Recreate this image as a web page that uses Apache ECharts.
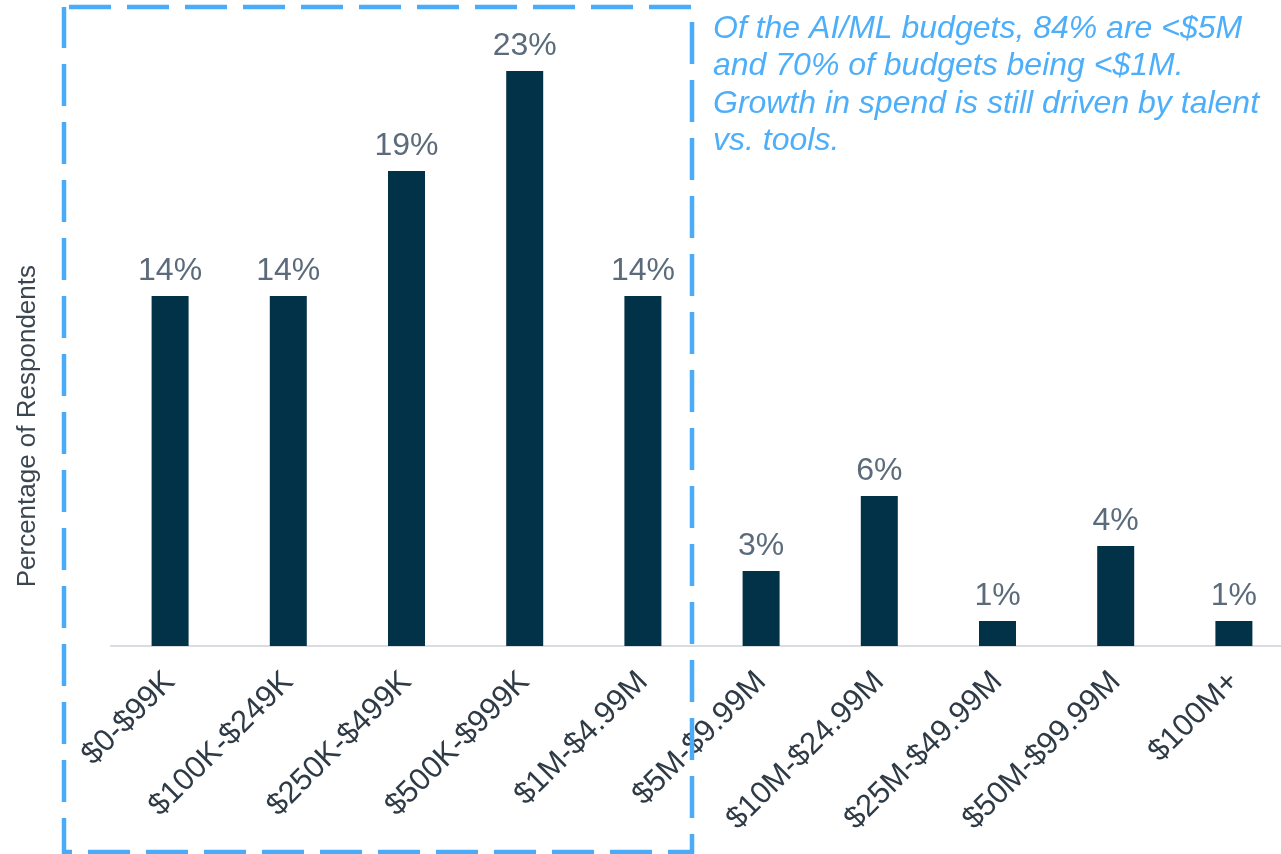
<!DOCTYPE html>
<html>
<head>
<meta charset="utf-8">
<script src="https://cdn.jsdelivr.net/npm/echarts@6/dist/echarts.min.js"></script>
<style>
  html, body { margin: 0; padding: 0; background: #ffffff; }
  #chart { width: 1281px; height: 854px; }
</style>
</head>
<body>
<div id="chart"></div>
<script>
// AI/ML budget ranges and share of respondents in each
const categories = ['$0-$99K', '$100K-$249K', '$250K-$499K', '$500K-$999K', '$1M-$4.99M',
  '$5M-$9.99M', '$10M-$24.99M', '$25M-$49.99M', '$50M-$99.99M', '$100M+'];
const respondentShare = [14, 14, 19, 23, 14, 3, 6, 1, 4, 1];
const axisTitle = 'Percentage of Respondents';
const noteLines = [
  'Of the AI/ML budgets, 84% are <$5M',
  'and 70% of budgets being <$1M.',
  'Growth in spend is still driven by talent',
  'vs. tools.'
];

const FONT = '"Liberation Sans", Arial, sans-serif';
const chart = echarts.init(document.getElementById('chart'), null, { renderer: 'canvas' });

chart.setOption({
  animation: false,
  backgroundColor: '#ffffff',
  grid: {
    left: 111, top: 21, width: 1182, height: 625,
    containLabel: false,
    outerBoundsMode: 'none'
  },
  xAxis: {
    type: 'category',
    data: categories,
    axisLine: { show: true, lineStyle: { color: '#d9dde2', width: 2 } },
    axisTick: { show: false },
    axisLabel: {
      rotate: 45,
      margin: 31,
      interval: 0,
      color: '#2e3a45',
      fontSize: 31,
      fontFamily: FONT
    }
  },
  yAxis: {
    type: 'value',
    min: 0,
    max: 25,
    show: false,
    splitLine: { show: false }
  },
  series: [{
    type: 'bar',
    data: respondentShare,
    barWidth: 37,
    itemStyle: { color: '#023247' },
    label: {
      show: true,
      position: 'top',
      distance: 9,
      formatter: '{c}%',
      color: '#5b6b7c',
      fontSize: 32,
      fontFamily: FONT
    }
  }],
  graphic: [
    {
      type: 'text',
      left: 15,
      top: 265,
      rotation: Math.PI / 2,
      style: {
        text: axisTitle,
        fill: '#3c4650',
        font: '26px ' + FONT
      }
    },
    {
      type: 'rect',
      z: 100,
      shape: { x: 64, y: 7, width: 628, height: 845 },
      style: {
        fill: 'none',
        stroke: '#4aacf8',
        lineWidth: 4.5,
        lineDash: [42, 16],
        lineDashOffset: -5
      }
    },
    {
      type: 'text',
      z: 100,
      left: 713,
      top: 10,
      style: {
        text: noteLines.join('\n'),
        fill: '#4daefa',
        font: 'italic 32px ' + FONT,
        lineHeight: 37.5
      }
    }
  ]
});
</script>
</body>
</html>
